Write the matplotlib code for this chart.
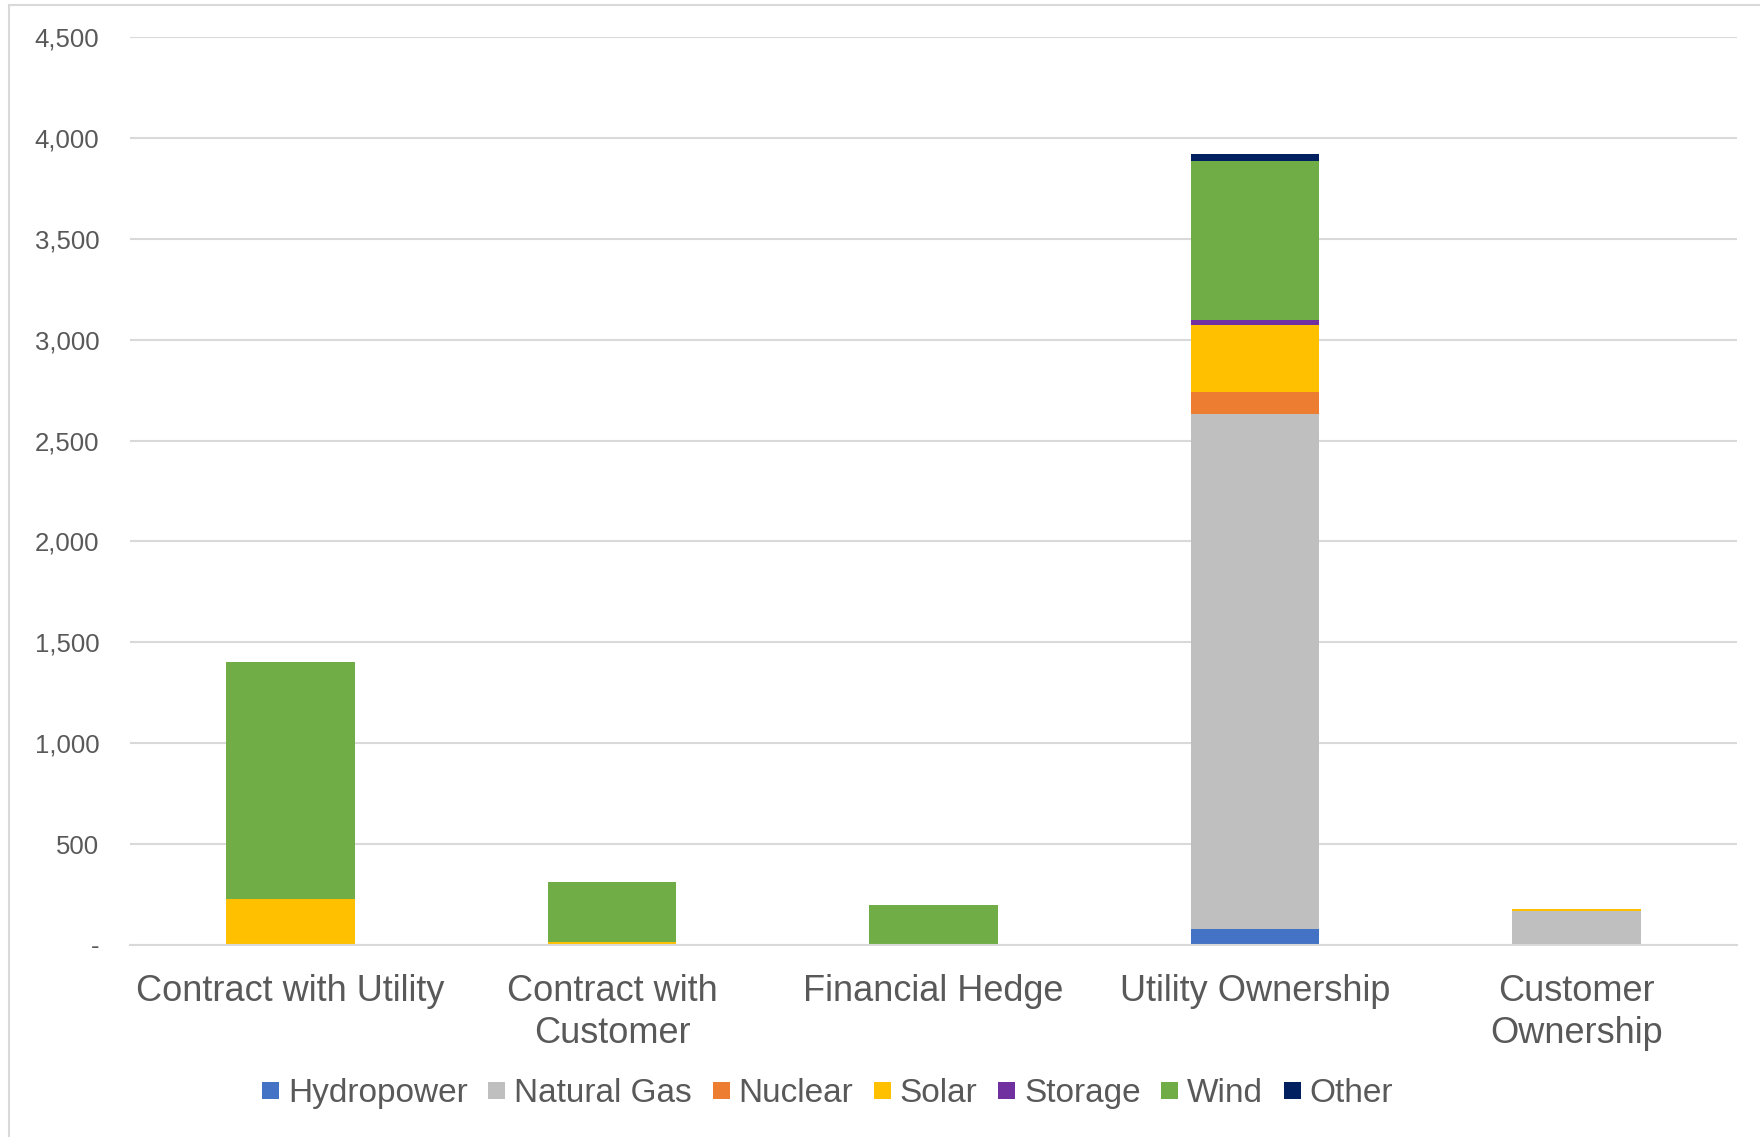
import matplotlib.pyplot as plt
import numpy as np
from matplotlib.patches import Rectangle
from matplotlib.ticker import FuncFormatter

plt.rcParams["font.family"] = "Liberation Sans"

categories = ["Contract with Utility", "Contract with\nCustomer", "Financial Hedge",
              "Utility Ownership", "Customer\nOwnership"]

# MW by resource type, one value per category
hydropower = [0, 0, 0, 80, 0]
natural_gas = [0, 0, 0, 2554, 170]
nuclear = [0, 0, 0, 105, 0]
solar = [230, 15, 0, 334, 10]
storage = [0, 0, 0, 25, 0]
wind = [1175, 295, 196, 786, 0]
other = [0, 0, 0, 35, 0]

series = [("Hydropower", hydropower, "#4472C4"),
          ("Natural Gas", natural_gas, "#BFBFBF"),
          ("Nuclear", nuclear, "#ED7D31"),
          ("Solar", solar, "#FFC000"),
          ("Storage", storage, "#7030A0"),
          ("Wind", wind, "#70AD47"),
          ("Other", other, "#002060")]

W, H = 1760, 1137
fig = plt.figure(figsize=(W / 100, H / 100), dpi=100)
ax = fig.add_axes([130 / W, (H - 945) / H, (1737 - 130) / W, 908 / H])

x = np.arange(len(categories))
bottom = np.zeros(len(categories))
for name, vals, col in series:
    vals = np.array(vals, dtype=float)
    ax.bar(x, vals, width=0.4, bottom=bottom, color=col, label=name, zorder=3)
    bottom += vals

ax.set_xlim(-0.5, len(categories) - 0.5)
ax.set_ylim(0, 4500)
ax.set_yticks(np.arange(0, 4501, 500))
ax.yaxis.set_major_formatter(FuncFormatter(lambda v, p: "-" if v == 0 else f"{v:,.0f}"))
ax.grid(axis="y", color="#D9D9D9", linewidth=1.5, zorder=0)

for s in ["top", "right", "left"]:
    ax.spines[s].set_visible(False)
ax.spines["bottom"].set_color("#D9D9D9")
ax.spines["bottom"].set_linewidth(1.5)
ax.spines["bottom"].set_zorder(4)

ax.set_xticks(x)
ax.set_xticklabels(categories, fontsize=26, color="#595959", linespacing=1.24)
ax.tick_params(axis="x", length=0, pad=21)
ax.tick_params(axis="y", length=0, pad=22, labelsize=18.5, labelcolor="#595959")

# legend laid out by hand so all labels share one baseline
renderer = fig.canvas.get_renderer()
xpos = 262
for name, vals, col in series:
    fig.patches.append(Rectangle((xpos / W, 1 - 1099 / H), 17 / W, 17 / H,
                                 transform=fig.transFigure, facecolor=col,
                                 edgecolor="none"))
    t = fig.text((xpos + 26) / W, 1 - 1102 / H, name, fontsize=24,
                 color="#595959", va="baseline", ha="left")
    xpos += 26 + t.get_window_extent(renderer).width + 20.5

# thin frame around the chart area
fig.patches.append(Rectangle((9 / W, -0.01), 1.0, 1 - 5 / H + 0.01,
                             transform=fig.transFigure, fill=False,
                             edgecolor="#D9D9D9", linewidth=1.5))

fig.savefig("out.png", dpi=100)
